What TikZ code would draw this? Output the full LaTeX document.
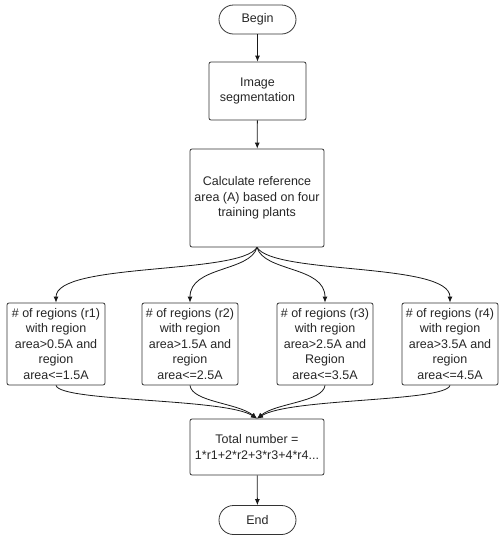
\documentclass[tikz,border=0pt]{standalone}
\usepackage{fontspec}
\setmainfont{Liberation Sans}
\usetikzlibrary{arrows.meta}
\begin{document}
\begin{tikzpicture}[x=1pt,y=-1pt,
  every node/.style={font=\fontsize{12.5}{15.5}\selectfont, text=black!85},
  box/.style={draw=black!80, line width=0.8pt, rounded corners=2pt, align=center, inner sep=0pt},
  term/.style={draw=black!80, line width=0.8pt, rounded corners=14.5pt, minimum width=77pt, minimum height=29pt, inner sep=0pt},
  conn/.style={draw=black!90, line width=0.8pt, -{Latex[length=6pt,width=5pt]}}]
\useasboundingbox (0,0) rectangle (504,550);
\node[term] (begin) at (257.5,19.5) {Begin};
\node[box, minimum width=97pt, minimum height=58pt] (seg) at (257.5,91) {Image\\segmentation};
\node[box, minimum width=134pt, minimum height=98pt] (calc) at (257,198) {Calculate reference\\area (A) based on four\\training plants};
\node[box, minimum width=98pt, minimum height=82pt] (r1) at (56,344) {\# of regions (r1)\\with region\\area>0.5A and\\region\\area<=1.5A};
\node[box, minimum width=96pt, minimum height=82pt] (r2) at (190,344) {\# of regions (r2)\\with region\\area>1.5A and\\region\\area<=2.5A};
\node[box, minimum width=96pt, minimum height=82pt] (r3) at (325,344) {\# of regions (r3)\\with region\\area>2.5A and\\Region\\area<=3.5A};
\node[box, minimum width=96pt, minimum height=82pt] (r4) at (450,344) {\# of regions (r4)\\with region\\area>3.5A and\\region\\area<=4.5A};
\node[box, minimum width=134pt, minimum height=56pt] (tot) at (257,447) {Total number =\\1*r1+2*r2+3*r3+4*r4...};
\node[term] (end) at (257.5,520) {End};
\draw[conn] (begin) -- (seg);
\draw[conn] (seg) -- (calc);
\draw[conn] (calc.south) .. controls (240,275) and (56,262) .. (r1.north);
\draw[conn] (calc.south) .. controls (250,272) and (190,266) .. (r2.north);
\draw[conn] (calc.south) .. controls (264,272) and (325,266) .. (r3.north);
\draw[conn] (calc.south) .. controls (274,275) and (450,262) .. (r4.north);
\draw[conn] (r1.south) .. controls (60,402) and (225,398) .. (tot.north);
\draw[conn] (r2.south) .. controls (192,402) and (238,403) .. (tot.north);
\draw[conn] (r3.south) .. controls (323,402) and (276,403) .. (tot.north);
\draw[conn] (r4.south) .. controls (445,402) and (290,398) .. (tot.north);
\draw[conn] (tot) -- (end);
\end{tikzpicture}
\end{document}
